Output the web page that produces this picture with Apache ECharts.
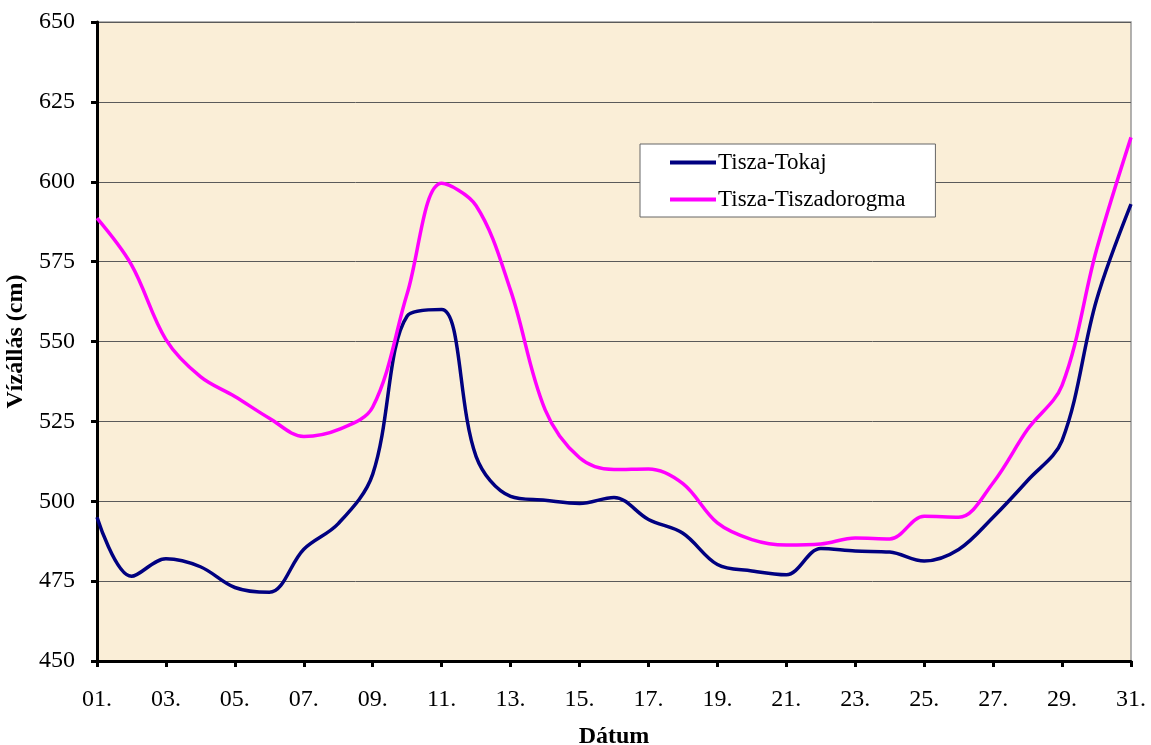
<!DOCTYPE html>
<html>
<head>
<meta charset="utf-8">
<script src="https://cdn.jsdelivr.net/npm/echarts@6/dist/echarts.min.js"></script>
<style>
html,body{margin:0;padding:0;background:#fff;}
#c{width:1151px;height:745px;}
</style>
</head>
<body>
<div id="c"></div>
<script>
const days = ['01.','02.','03.','04.','05.','06.','07.','08.','09.','10.','11.','12.','13.','14.','15.','16.','17.','18.','19.','20.','21.','22.','23.','24.','25.','26.','27.','28.','29.','30.','31.'];
const tokaj = [495, 476.5, 482, 479.5, 473, 471.5, 485, 493, 508.5, 558, 560, 514, 501.5, 500.3, 499.3, 501.2, 494.3, 490, 480.2, 478.2, 477, 485.2, 484.4, 484.1, 481.3, 484.9, 495, 506.5, 519, 563, 593];
const dorogma = [588.6, 574, 550.6, 539, 532.8, 526, 520.3, 522.4, 529.5, 565, 599.5, 592.5, 566, 528.7, 513.6, 509.9, 510.1, 505.5, 493.2, 488, 486.3, 486.6, 488.5, 488.2, 495.3, 495, 505.8, 522.5, 536.3, 578.7, 613.9];
const seriesNames = ['Tisza-Tokaj', 'Tisza-Tiszadorogma'];
const yTitle = 'Vízállás (cm)';
const xTitle = 'Dátum';

const font = '"Liberation Serif", "Times New Roman", serif';
const chart = echarts.init(document.getElementById('c'));
chart.setOption({
  animation: false,
  backgroundColor: '#ffffff',
  grid: {
    left: 97, right: 20, top: 22, bottom: 84,
    containLabel: false,
    outerBoundsMode: 'none',
    show: true, backgroundColor: '#FAEED7', borderColor: '#999', borderWidth: 1.5
  },
  legend: {
    orient: 'vertical',
    left: 640, top: 144,
    padding: [7, 30, 6, 30],
    backgroundColor: '#ffffff',
    borderColor: '#666',
    borderWidth: 1,
    borderRadius: 0,
    itemWidth: 46, itemHeight: 4, itemGap: 14,
    icon: 'rect',
    textStyle: { fontFamily: font, fontSize: 23, lineHeight: 23, color: '#000', padding: [0,0,0,-3] },
    data: seriesNames
  },
  xAxis: {
    type: 'category',
    data: days,
    boundaryGap: false,
    name: xTitle,
    nameLocation: 'middle',
    nameGap: 64,
    nameTextStyle: { fontFamily: font, fontSize: 24, fontWeight: 'bold', color: '#000' },
    axisLine: { lineStyle: { color: '#000', width: 3 } },
    axisTick: { interval: 1, length: 6, lineStyle: { color: '#000', width: 3 } },
    axisLabel: { interval: 1, margin: 27, fontFamily: font, fontSize: 24, color: '#000' },
    splitLine: { show: false }
  },
  yAxis: {
    type: 'value',
    min: 450, max: 650, interval: 25,
    name: yTitle,
    nameLocation: 'middle',
    nameGap: 64,
    nameRotate: 90,
    nameTextStyle: { fontFamily: font, fontSize: 24, fontWeight: 'bold', color: '#000' },
    axisLine: { show: true, lineStyle: { color: '#000', width: 3 } },
    axisTick: { show: true, length: 6, lineStyle: { color: '#000', width: 3 } },
    axisLabel: { margin: 22, fontFamily: font, fontSize: 24, color: '#000' },
    splitLine: { lineStyle: { color: '#5a5a5a', width: 1 } }
  },
  series: [
    { name: seriesNames[0], type: 'line', data: tokaj, smooth: 0.35, showSymbol: false, symbol: 'none',
      lineStyle: { color: '#000080', width: 3.5 }, itemStyle: { color: '#000080' } },
    { name: seriesNames[1], type: 'line', data: dorogma, smooth: 0.35, showSymbol: false, symbol: 'none',
      lineStyle: { color: '#FF00FF', width: 3.5 }, itemStyle: { color: '#FF00FF' } }
  ]
});
</script>
</body>
</html>
